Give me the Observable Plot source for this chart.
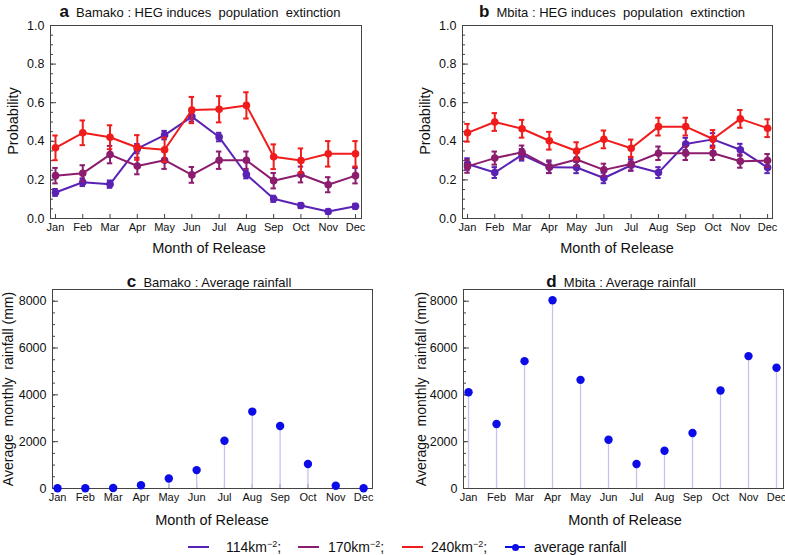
<!DOCTYPE html>
<html><head><meta charset="utf-8">
<script src="https://cdn.jsdelivr.net/npm/d3@7"></script>
<script src="https://cdn.jsdelivr.net/npm/@observablehq/plot@0.6"></script>
<style>
body{margin:0;background:#fff;font-family:"Liberation Sans",Arial,sans-serif;}
#root{position:relative;width:785px;height:555px;overflow:hidden;background:#fff;}
.p{position:absolute;}
.t{position:absolute;white-space:pre;color:#111;line-height:1;}
.c{transform:translate(-50%,-50%);}
.r{transform:translate(-50%,-50%) rotate(-90deg);}
.leg{position:absolute;top:547px;transform:translateY(-50%);font-size:14px;white-space:pre;color:#111;}
.sw{position:absolute;height:2px;top:546px;}
</style></head><body><div id="root"></div>
<script>
// ---- data ----
const months = ["Jan","Feb","Mar","Apr","May","Jun","Jul","Aug","Sep","Oct","Nov","Dec"];
const seriesNames = ["114km⁻²", "170km⁻²", "240km⁻²"];
const seriesColors = ["#5a22b4", "#8c1c6e", "#f01c1c"];

const bamako114 = [0.135,0.188,0.178,0.362,0.432,0.528,0.422,0.228,0.102,0.067,0.036,0.063];
const bamako114Err = [0.018,0.020,0.019,0.024,0.022,0.025,0.022,0.020,0.016,0.013,0.010,0.013];
const bamako170 = [0.222,0.234,0.331,0.272,0.302,0.226,0.302,0.302,0.196,0.228,0.175,0.222];
const bamako170Err = [0.040,0.042,0.045,0.043,0.045,0.041,0.045,0.045,0.040,0.041,0.039,0.040];
const bamako240 = [0.366,0.444,0.421,0.368,0.356,0.562,0.566,0.586,0.320,0.300,0.335,0.335];
const bamako240Err = [0.064,0.064,0.062,0.064,0.063,0.068,0.068,0.068,0.064,0.063,0.066,0.066];

const mbita114 = [0.282,0.238,0.330,0.265,0.264,0.210,0.276,0.238,0.386,0.410,0.356,0.264];
const mbita114Err = [0.030,0.028,0.030,0.029,0.029,0.027,0.029,0.028,0.032,0.032,0.031,0.029];
const mbita170 = [0.270,0.313,0.343,0.268,0.306,0.252,0.282,0.338,0.338,0.338,0.297,0.300];
const mbita170Err = [0.033,0.034,0.035,0.033,0.034,0.032,0.033,0.035,0.035,0.035,0.034,0.034];
const mbita240 = [0.444,0.500,0.465,0.403,0.350,0.410,0.364,0.476,0.476,0.412,0.516,0.468];
const mbita240Err = [0.046,0.046,0.046,0.046,0.045,0.046,0.045,0.046,0.046,0.046,0.046,0.046];

const bamakoRain = [10,10,20,140,430,785,2040,3285,2670,1045,115,10];
const mbitaRain = [4110,2755,5440,8040,4640,2085,1045,1615,2370,4185,5655,5155];

const probTicks = [0,0.2,0.4,0.6,0.8,1.0];
const probMinor = d3.range(0,1.0001,0.05);
const rainTicks = [0,2000,4000,6000,8000];
const rainMinor = d3.range(0,8501,500);

// ---- helpers ----
const root = document.getElementById("root");
const monthNum = months.map((m,i)=>i+1);
const FRAME = "#444";

function addText(html, x, y, cls, size) {
  const d = document.createElement("div");
  d.className = "t " + cls;
  d.style.left = x + "px"; d.style.top = y + "px";
  d.style.fontSize = size + "px";
  d.innerHTML = html;
  root.appendChild(d);
}

function axes(yTicks, yMinor, yFmt) {
  return [
    Plot.axisX({ticks: monthNum, tickFormat: i => months[i-1], tickSize: -4, tickPadding: 9, fontSize: 11, label: null, stroke: FRAME}),
    Plot.axisY({ticks: yMinor, tickSize: -3, tickFormat: () => "", label: null, stroke: FRAME}),
    Plot.axisY({ticks: yTicks, tickSize: -6, tickPadding: 12, tickFormat: yFmt, fontSize: 12.5, label: null, stroke: FRAME}),
    Plot.frame({stroke: FRAME, strokeWidth: 1})
  ];
}

function probPanel(vals, errs, pos, xdom) {
  const marks = [];
  vals.forEach((v, k) => {
    const data = monthNum.map((m,i)=>({m, v: v[i], e: errs[k][i]}));
    const col = seriesColors[k];
    marks.push(Plot.line(data, {x: "m", y: "v", stroke: col, strokeWidth: 2}));
    marks.push(Plot.ruleX(data, {x: "m", y1: d => d.v - d.e, y2: d => d.v + d.e, stroke: col, strokeWidth: 2}));
    marks.push(Plot.ruleY(data, {y: d => d.v - d.e, x1: d => d.m - 0.1, x2: d => d.m + 0.1, stroke: col, strokeWidth: 2}));
    marks.push(Plot.ruleY(data, {y: d => d.v + d.e, x1: d => d.m - 0.1, x2: d => d.m + 0.1, stroke: col, strokeWidth: 2}));
    marks.push(Plot.dot(data, {x: "m", y: "v", fill: col, r: 3.8}));
  });
  const p = Plot.plot({
    width: pos.w, height: pos.h,
    marginLeft: pos.ml, marginRight: pos.mr, marginTop: pos.mt, marginBottom: pos.mb,
    style: {fontFamily: "Liberation Sans, Arial, sans-serif", background: "transparent", color: "#111"},
    x: {domain: xdom, axis: null},
    y: {domain: [0, 1], axis: null},
    marks: [...axes(probTicks, probMinor, d3.format(".1f")), ...marks]
  });
  p.classList.add("p"); p.style.left = pos.x + "px"; p.style.top = pos.y + "px";
  root.appendChild(p);
}

function rainPanel(vals, pos, xdom) {
  const data = monthNum.map((m,i)=>({m, v: vals[i]}));
  const p = Plot.plot({
    width: pos.w, height: pos.h,
    marginLeft: pos.ml, marginRight: pos.mr, marginTop: pos.mt, marginBottom: pos.mb,
    style: {fontFamily: "Liberation Sans, Arial, sans-serif", background: "transparent", color: "#111"},
    x: {domain: xdom, axis: null},
    y: {domain: [0, 8500], axis: null},
    marks: [
      ...axes(rainTicks, rainMinor, d3.format("d")),
      Plot.ruleX(data, {x: "m", y1: 0, y2: "v", stroke: "#c4c4ee", strokeWidth: 1.3}),
      Plot.dot(data, {x: "m", y: "v", fill: "#0c0ce8", r: 4.2})
    ]
  });
  p.classList.add("p"); p.style.left = pos.x + "px"; p.style.top = pos.y + "px";
  root.appendChild(p);
}

// ---- panels ----
probPanel([bamako114, bamako170, bamako240], [bamako114Err, bamako170Err, bamako240Err],
  {x: 0, y: 0, w: 390, h: 265, ml: 50, mr: 29, mt: 25, mb: 47}, [0.817, 12.22]);
probPanel([mbita114, mbita170, mbita240], [mbita114Err, mbita170Err, mbita240Err],
  {x: 390, y: 0, w: 395, h: 265, ml: 72, mr: 13, mt: 25, mb: 47}, [0.817, 12.18]);
rainPanel(bamakoRain, {x: 0, y: 265, w: 390, h: 245, ml: 52, mr: 18, mt: 24, mb: 22}, [0.82, 12.32]);
rainPanel(mbitaRain, {x: 390, y: 265, w: 395, h: 245, ml: 73, mr: 2, mt: 24, mb: 22}, [0.82, 12.25]);

// ---- titles & axis labels ----
addText('<b style="font-size:17px">a</b>  Bamako : HEG induces  population  extinction', 200, 11, "c", 13);
addText('<b style="font-size:17px">b</b>  Mbita : HEG induces  population  extinction', 612, 11, "c", 13);
addText('<b style="font-size:17px">c</b>  Bamako : Average rainfall', 209, 281, "c", 13);
addText('<b style="font-size:17px">d</b>  Mbita : Average rainfall', 621, 281, "c", 13);

addText("Month of Release", 209, 248, "c", 14.5);
addText("Month of Release", 617, 248, "c", 14.5);
addText("Month of Release", 212, 520, "c", 14.5);
addText("Month of Release", 625, 520, "c", 14.5);

addText("Probability", 13, 121, "r", 14.5);
addText("Probability", 425, 121, "r", 14.5);
addText("Average  monthly  rainfall (mm)", 8, 389, "r", 14);
addText("Average  monthly  rainfall (mm)", 421, 389, "r", 14);

// ---- legend ----
const legItems = [
  {x0: 188, x1: 209, tx: 226, label: "114km<sup style='font-size:9px'>−2</sup>;", color: seriesColors[0]},
  {x0: 298, x1: 319, tx: 328, label: "170km<sup style='font-size:9px'>−2</sup>;", color: seriesColors[1]},
  {x0: 402, x1: 423, tx: 431, label: "240km<sup style='font-size:9px'>−2</sup>;", color: seriesColors[2]},
  {x0: 505, x1: 525, tx: 534, label: "average ranfall", color: "#0c0ce8", dot: true}
];
legItems.forEach(it => {
  const s = document.createElement("div");
  s.className = "sw"; s.style.left = it.x0 + "px"; s.style.width = (it.x1 - it.x0) + "px";
  s.style.background = it.color; root.appendChild(s);
  if (it.dot) {
    const d = document.createElement("div");
    d.style.cssText = `position:absolute;left:${(it.x0+it.x1)/2-3.5}px;top:${547-3.5}px;width:7px;height:7px;border-radius:50%;background:${it.color}`;
    root.appendChild(d);
  }
  const t = document.createElement("div");
  t.className = "leg"; t.style.left = it.tx + "px"; t.innerHTML = it.label;
  root.appendChild(t);
});
</script>
</body></html>
